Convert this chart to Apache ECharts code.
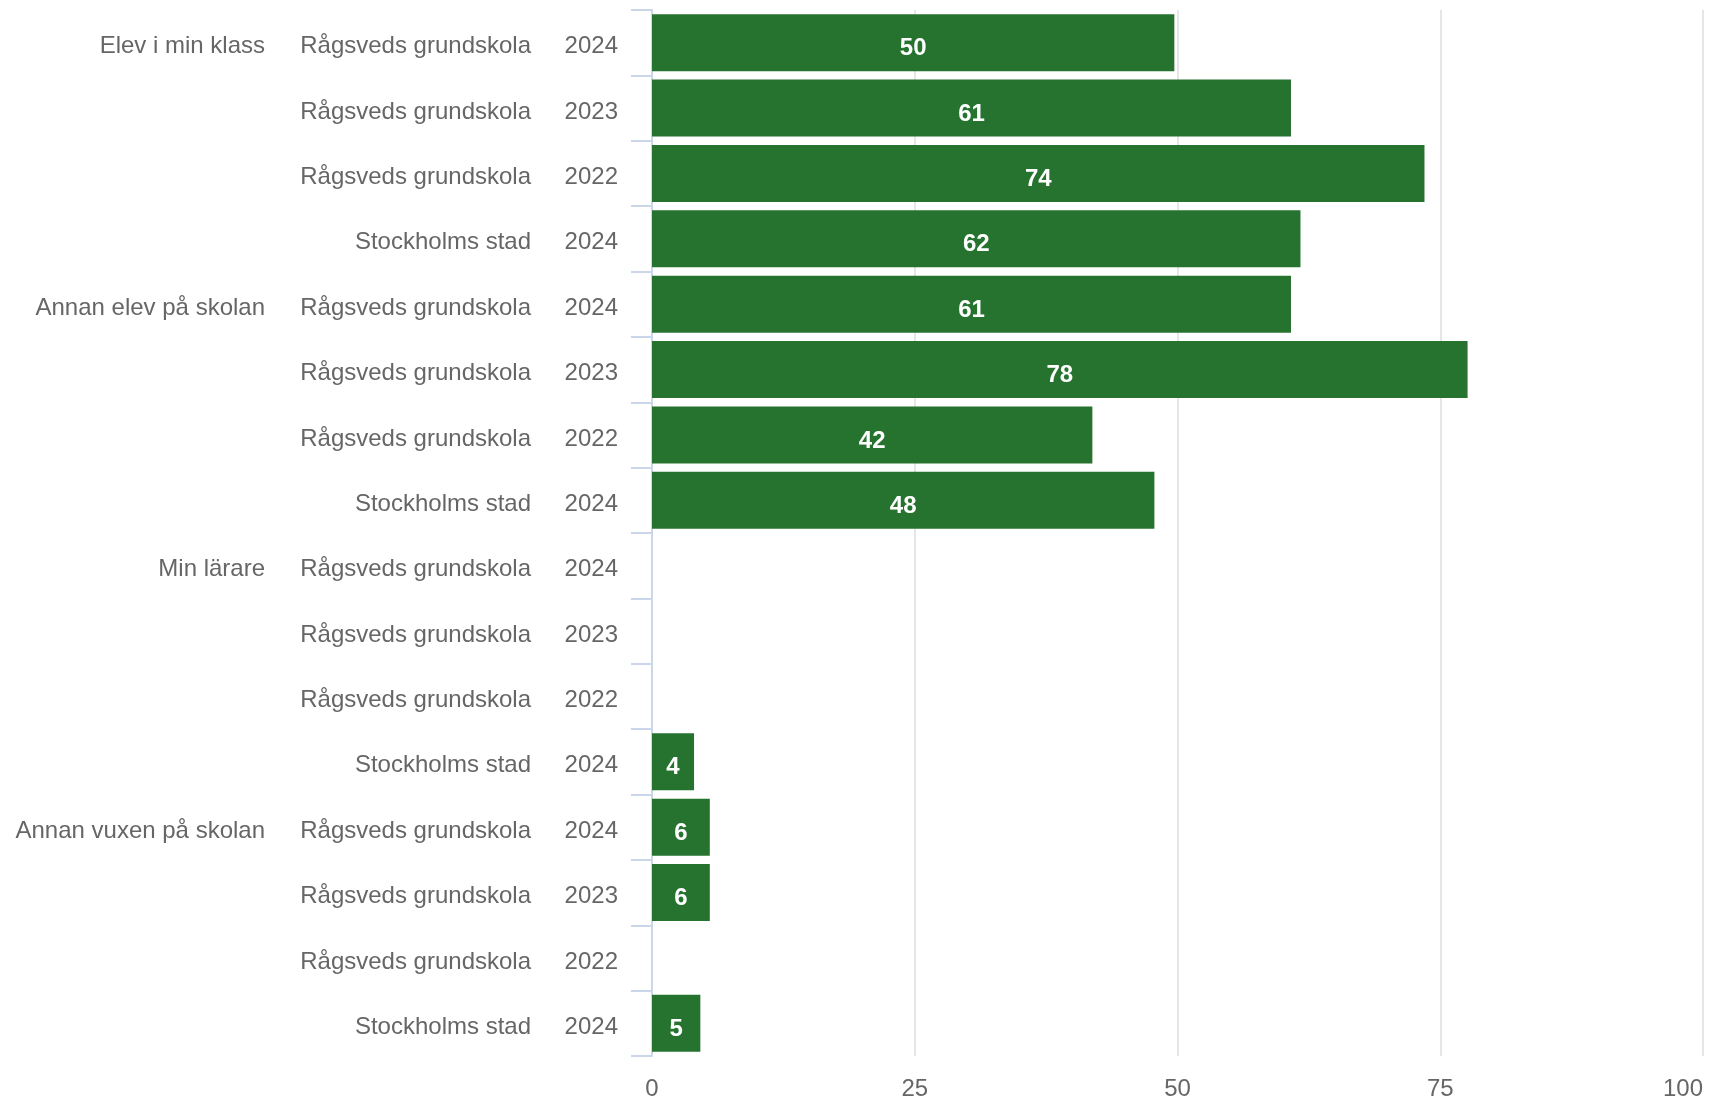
<!DOCTYPE html>
<html>
<head>
<meta charset="utf-8">
<script src="https://cdn.jsdelivr.net/npm/echarts@6/dist/echarts.min.js"></script>
<style>
html,body{margin:0;padding:0;background:#fff;}
#chart{width:1712px;height:1101px;}
</style>
</head>
<body>
<div id="chart"></div>
<script>
const groups = ['Elev i min klass','','','','Annan elev på skolan','','','','Min lärare','','','','Annan vuxen på skolan','','',''];
const schools = ['Rågsveds grundskola','Rågsveds grundskola','Rågsveds grundskola','Stockholms stad',
                 'Rågsveds grundskola','Rågsveds grundskola','Rågsveds grundskola','Stockholms stad',
                 'Rågsveds grundskola','Rågsveds grundskola','Rågsveds grundskola','Stockholms stad',
                 'Rågsveds grundskola','Rågsveds grundskola','Rågsveds grundskola','Stockholms stad'];
const years = ['2024','2023','2022','2024','2024','2023','2022','2024','2024','2023','2022','2024','2024','2023','2022','2024'];
const values = [49.7, 60.8, 73.5, 61.7, 60.8, 77.6, 41.9, 47.8, null, null, null, 4.0, 5.5, 5.5, null, 4.6];
const xTicks = [0, 25, 50, 75, 100];

const FONT = '"Liberation Sans", Arial, Helvetica, sans-serif';
const chart = echarts.init(document.getElementById('chart'), null, {renderer: 'canvas'});

function catAxis(data, margin, showLine) {
  return {
    type: 'category',
    data: data,
    inverse: true,
    position: 'left',
    boundaryGap: true,
    axisLine: {show: showLine, lineStyle: {color: '#ccd6eb', width: 2}},
    axisTick: {show: showLine, length: 21, lineStyle: {color: '#ccd6eb', width: 2}},
    axisLabel: {
      show: true, margin: margin, interval: 0,
      formatter: v => (v ? '{t|' + v + '}' : ''),
      rich: {t: {color: '#666666', fontSize: 24, fontFamily: FONT, padding: [8, 0, 0, 0]}}
    },
    splitLine: {show: false}
  };
}

chart.setOption({
  animation: false,
  backgroundColor: '#ffffff',
  grid: {left: 652, right: 9, top: 10, bottom: 44, containLabel: false},
  xAxis: {
    type: 'value',
    min: xTicks[0],
    max: xTicks[xTicks.length - 1],
    interval: 25,
    axisLine: {show: false},
    axisTick: {show: false},
    splitLine: {show: true, lineStyle: {color: '#e6e6e6', width: 2}},
    axisLabel: {
      color: '#666666', fontSize: 24, fontFamily: FONT, margin: 21,
      alignMaxLabel: 'right',
      customValues: xTicks
    }
  },
  yAxis: [
    catAxis(years, 34, true),
    catAxis(schools, 121, false),
    catAxis(groups, 387, false)
  ],
  series: [{
    type: 'bar',
    yAxisIndex: 0,
    data: values,
    barCategoryGap: '13%',
    itemStyle: {color: '#26732f'},
    label: {
      show: true,
      position: 'inside',
      offset: [0, 6],
      color: '#ffffff',
      fontWeight: 'bold',
      fontSize: 24,
      fontFamily: FONT,
      formatter: p => (p.value == null ? '' : String(Math.round(p.value)))
    }
  }]
});
</script>
</body>
</html>
